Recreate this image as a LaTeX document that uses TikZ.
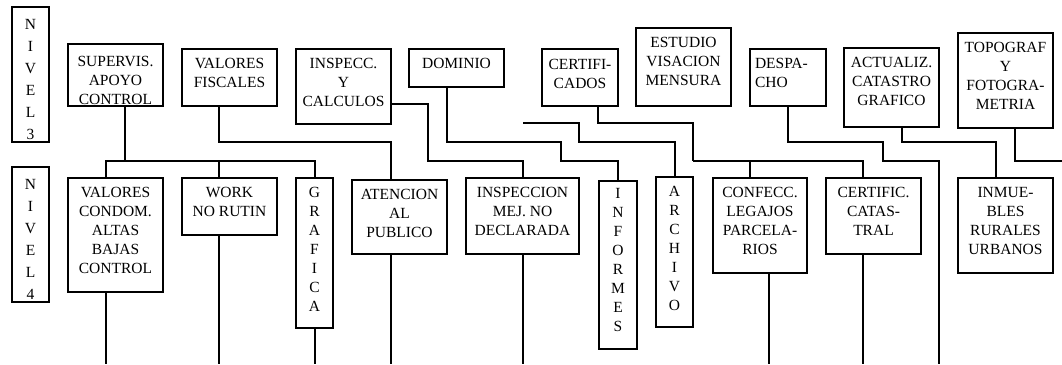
\documentclass[tikz,border=0pt]{standalone}
\usepackage{fontspec}
\setmainfont{Liberation Serif}
\newcommand{\ml}[1]{\begin{tabular}[t]{@{}c@{}}#1\end{tabular}}
\newcommand{\mlL}[1]{\begin{tabular}[t]{@{}l@{}}#1\end{tabular}}
\newcommand{\bx}[5]{\node[box, minimum width={(#4-#2)*1pt}, minimum height={(#5-#3)*1pt}] (#1) at ({(#2+#4)/2},{(#3+#5)/2}) {};}
\begin{document}
\begin{tikzpicture}[x=1pt,y=-1pt,line width=2pt,
  box/.style={draw, rectangle, inner sep=0pt, line width=2pt},
  txt/.style={inner sep=0pt, anchor=base, font=\fontsize{15.5}{19}\selectfont},
  txtn/.style={inner sep=0pt, anchor=base, font=\fontsize{15.5}{22}\selectfont},
  conn/.style={draw, line width=2pt}]
\useasboundingbox (0,0) rectangle (1062,364);
% level 3 boxes
\bx{niv3}{12}{7}{49}{142}
\bx{sup}{68}{44}{163}{106}
\bx{valfis}{182}{49}{277}{106}
\bx{inspecc}{296}{49}{391}{124}
\bx{dominio}{409}{49}{504}{87}
\bx{certs}{542}{49}{618}{106}
\bx{estudio}{636}{28}{731}{106}
\bx{despacho}{750}{49}{826}{106}
\bx{actualiz}{844}{48}{939}{127}
\bx{topograf}{958}{33}{1053}{128}
% level 4 boxes
\bx{niv4}{12}{167}{49}{302}
\bx{valcond}{68}{178}{163}{292}
\bx{work}{182}{178}{277}{235}
\bx{grafica}{296}{178}{333}{328}
\bx{atencion}{352}{180}{447}{254}
\bx{inspeccion}{466}{178}{579}{254}
\bx{informes}{599}{181}{637}{349}
\bx{archivo}{656}{177}{693}{327}
\bx{confecc}{713}{178}{807}{273}
\bx{certific}{826}{178}{921}{254}
\bx{inmuebles}{958}{178}{1053}{273}
% texts
\node[txtn] (niv3-t) at (30.5,29.3) {\ml{N\\I\\V\\E\\L\\3}};
\node[txtn] (niv4-t) at (30.5,189.3) {\ml{N\\I\\V\\E\\L\\4}};
\node[txt] (sup-t) at (115.5,66) {\ml{SUPERVIS.\\APOYO\\CONTROL}};
\node[txt] (valfis-t) at (229.5,68) {\ml{VALORES\\FISCALES}};
\node[txt] (inspecc-t) at (343.5,68) {\ml{INSPECC.\\Y\\CALCULOS}};
\node[txt] (dominio-t) at (456.5,68) {\ml{DOMINIO}};
\node[txt] (certs-t) at (580,69) {\ml{CERTIFI-\\CADOS}};
\node[txt] (estudio-t) at (683.5,47.5) {\ml{ESTUDIO\\VISACION\\MENSURA}};
\node[txt, anchor=base west] (despacho-t) at (754,68) {\mlL{DESPA-\\CHO}};
\node[txt] (actualiz-t) at (891.5,67.7) {\ml{ACTUALIZ.\\CATASTRO\\GRAFICO}};
\node[txt] (topograf-t) at (1005.5,52.7) {\ml{TOPOGRAF\\Y\\FOTOGRA-\\METRIA}};
\node[txt] (valcond-t) at (115.5,197.3) {\ml{VALORES\\CONDOM.\\ALTAS\\BAJAS\\CONTROL}};
\node[txt] (work-t) at (229.5,197) {\ml{WORK\\NO RUTIN}};
\node[txt] (grafica-t) at (314.5,197.5) {\ml{G\\R\\A\\F\\I\\C\\A}};
\node[txt] (atencion-t) at (399.5,199.3) {\ml{ATENCION\\AL\\PUBLICO}};
\node[txt] (inspeccion-t) at (522.5,197.3) {\ml{INSPECCION\\MEJ. NO\\DECLARADA}};
\node[txt] (informes-t) at (618,198.3) {\ml{I\\N\\F\\O\\R\\M\\E\\S}};
\node[txt] (archivo-t) at (674.5,196.7) {\ml{A\\R\\C\\H\\I\\V\\O}};
\node[txt] (confecc-t) at (760,197.7) {\ml{CONFECC.\\LEGAJOS\\PARCELA-\\RIOS}};
\node[txt] (certific-t) at (873.5,197.3) {\ml{CERTIFIC.\\CATAS-\\TRAL}};
\node[txt] (inmuebles-t) at (1005.5,197.3) {\ml{INMUE-\\BLES\\RURALES\\URBANOS}};
% coordinates
\coordinate (bus1) at (125,161);
\coordinate (bus2) at (693,161);
\coordinate (free1) at (523,123);
\coordinate (desp-end) at (939,364);
\coordinate (topo-end) at (1062,161);
\coordinate (e1) at (106,364);
\coordinate (e2) at (219,364);
\coordinate (e3) at (314.5,364);
\coordinate (e4) at (391,364);
\coordinate (e5) at (522.5,364);
\coordinate (e6) at (769,364);
\coordinate (e7) at (863,364);
% connectors
\draw[conn] ([xshift=9.5pt]sup.south) -- (bus1);
\draw[conn] ([xshift=-9.5pt]valcond.north) |- (bus1);
\draw[conn] ([xshift=-10.5pt]work.north) |- (bus1);
\draw[conn] (grafica.north) |- (bus1);
\draw[conn] ([xshift=-10.5pt]valfis.south) |- (391,142) -- ([xshift=-8.5pt]atencion.north);
\draw[conn] ([yshift=-17.5pt]inspecc.east) -| (428,161) -| (inspeccion.north);
\draw[conn] ([xshift=-9.5pt]dominio.south) |- (561,142) |- (618,161) -- (informes.north);
\draw[conn] (free1) -| (579,142) -| (archivo.north);
\draw[conn] ([xshift=18pt]certs.south) |- (693,123) -- (bus2);
\draw[conn] ([xshift=-10pt]confecc.north) |- (bus2);
\draw[conn] ([xshift=-10.5pt]certific.north) |- (bus2);
\draw[conn] (despacho.south) |- (883,142) |- (939,161) -- (desp-end);
\draw[conn] ([xshift=10.5pt]actualiz.south) |- (996,142) -- ([xshift=-9.5pt]inmuebles.north);
\draw[conn] ([xshift=9.5pt]topograf.south) |- (topo-end);
% bottom lines
\draw[conn] ([xshift=-9.5pt]valcond.south) -- (e1);
\draw[conn] ([xshift=-10.5pt]work.south) -- (e2);
\draw[conn] (grafica.south) -- (e3);
\draw[conn] ([xshift=-8.5pt]atencion.south) -- (e4);
\draw[conn] (inspeccion.south) -- (e5);
\draw[conn] ([xshift=9pt]confecc.south) -- (e6);
\draw[conn] ([xshift=-10.5pt]certific.south) -- (e7);
\end{tikzpicture}
\end{document}
